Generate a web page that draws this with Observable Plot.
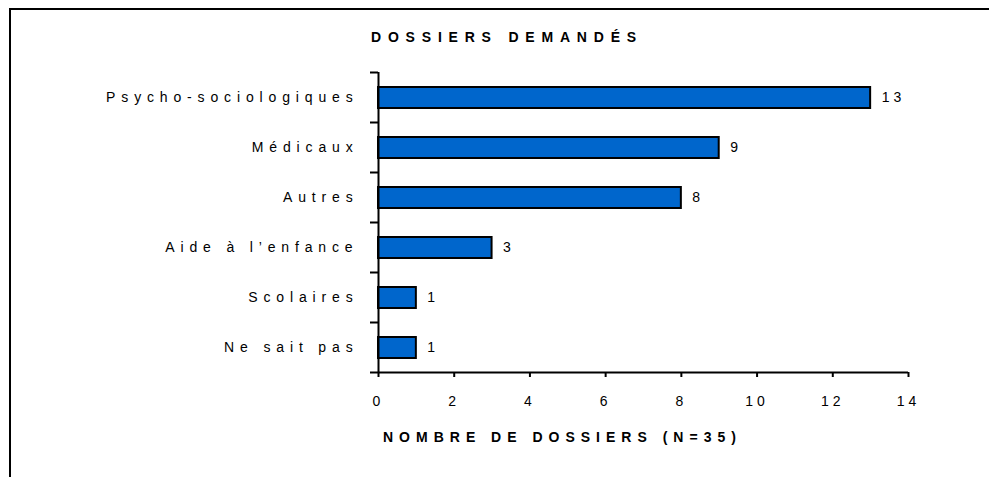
<!DOCTYPE html>
<html>
<head>
<meta charset="utf-8">
<script src="https://cdn.jsdelivr.net/npm/d3@7"></script>
<script src="https://cdn.jsdelivr.net/npm/@observablehq/plot@0.6"></script>
<style>
  html, body { margin: 0; padding: 0; background: #fff; width: 989px; height: 477px; overflow: hidden; }
  body { position: relative; font-family: "Liberation Sans", Arial, sans-serif; }
  #frame { position: absolute; left: 9px; top: 8px; width: 1200px; height: 1000px; border: 2px solid #000; box-sizing: border-box; }
  #chart { position: absolute; left: 0; top: 0; }
  .title { position: absolute; font-weight: bold; font-size: 14px; letter-spacing: 6px; color: #000; white-space: nowrap; line-height: 16px; }
  #chart svg text { font-family: "Liberation Sans", Arial, sans-serif; }
  g[aria-description="category labels"] text { letter-spacing: 5.85px; }
  g[aria-description="value labels"] text { letter-spacing: 4px; }
  g[aria-description="x tick labels"] text, g[aria-label="x-axis tick label"] text { letter-spacing: 4px; }
</style>
</head>
<body>
<div id="frame"></div>
<div id="chart"></div>
<div class="title" id="t1" style="left:371px; top:29px; letter-spacing:6.8px;">DOSSIERS DEMANDÉS</div>
<div class="title" id="t2" style="left:383px; top:429px;">NOMBRE DE DOSSIERS (N=35)</div>
<script>
const categories = ["Psycho-sociologiques", "Médicaux", "Autres", "Aide à l\u2019enfance", "Scolaires", "Ne sait pas"];
const values = [13, 9, 8, 3, 1, 1];
const xTicks = [0, 2, 4, 6, 8, 10, 12, 14];

const data = categories.map((c, i) => ({cat: c, value: values[i], i}));

const chart = Plot.plot({
  width: 989,
  height: 477,
  marginLeft: 378,
  marginRight: 81,
  marginTop: 72,
  marginBottom: 105,
  style: {fontFamily: "Liberation Sans, Arial, sans-serif", fontSize: "14px", color: "#000", background: "transparent", overflow: "visible"},
  x: {domain: [0, 14], label: null},
  y: {domain: [0, categories.length], reverse: true, label: null},
  marks: [
    Plot.rectX(data, {x1: 0, x2: "value", y1: "i", y2: d => d.i + 1, insetTop: 15, insetBottom: 14, fill: "#0066CC", stroke: "#000", strokeWidth: 2}),
    Plot.ruleX([0], {y1: 0, y2: categories.length, stroke: "#000", strokeWidth: 2}),
    Plot.ruleY([categories.length], {x1: 0, x2: 14, stroke: "#000", strokeWidth: 2}),
    Plot.axisY({ticks: d3.range(0, categories.length + 1), tickSize: 8, tickFormat: () => "", strokeWidth: 2, label: null}),
    Plot.axisX({ticks: xTicks, tickSize: 5, tickPadding: 19, strokeWidth: 2, label: null, fontSize: 14, ariaDescription: "x tick labels"}),
    Plot.text(data, {x: 0, y: d => d.i + 0.5, text: "cat", textAnchor: "end", dx: -20, fontSize: 14, ariaDescription: "category labels"}),
    Plot.text(data, {x: "value", y: d => d.i + 0.5, text: d => String(d.value), textAnchor: "start", dx: 11, fontSize: 14, ariaDescription: "value labels"})
  ]
});
document.getElementById("chart").appendChild(chart);
</script>
</body>
</html>
